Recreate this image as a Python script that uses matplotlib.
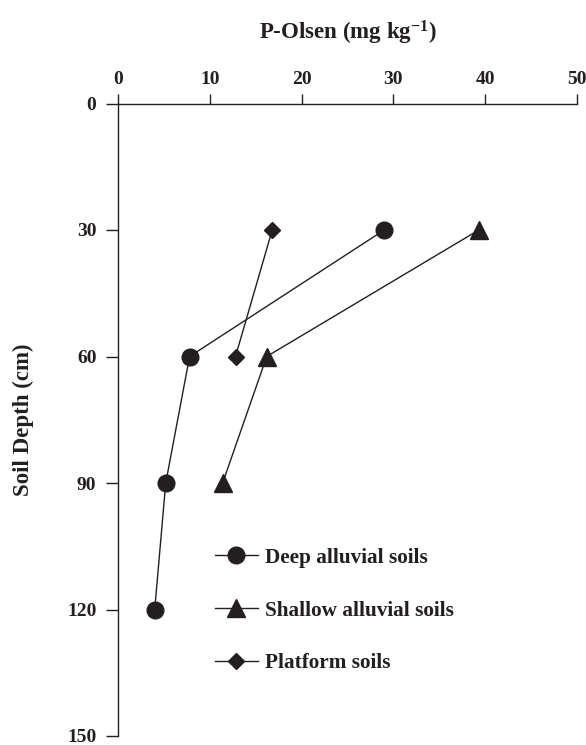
import matplotlib
matplotlib.use("Agg")
import matplotlib.pyplot as plt

# values
depth_deep = [30, 60, 90, 120]
p_deep = [29.0, 7.8, 5.2, 4.0]
depth_shallow = [30, 60, 90]
p_shallow = [39.3, 16.2, 11.4]
depth_platform = [30, 60]
p_platform = [16.8, 12.8]

x_ticks = [0, 10, 20, 30, 40, 50]
y_ticks = [0, 30, 60, 90, 120, 150]

plt.rcParams["font.family"] = "Liberation Serif"
plt.rcParams["font.weight"] = "bold"
plt.rcParams["mathtext.fontset"] = "custom"
plt.rcParams["mathtext.rm"] = "Liberation Serif:bold"
plt.rcParams["mathtext.it"] = "Liberation Serif:bold"
plt.rcParams["mathtext.bf"] = "Liberation Serif:bold"


def main():
    fig = plt.figure(figsize=(5.86, 7.45), dpi=100)
    ax = fig.add_axes([118 / 586, 1 - 736 / 745, 459 / 586, 632.5 / 745])

    kw = dict(color="#231f20", lw=1.0, clip_on=False)
    ax.plot(p_deep, depth_deep, marker="o", ms=12, label="Deep alluvial soils", **kw)
    ax.plot(p_shallow, depth_shallow, marker="^", ms=13, label="Shallow alluvial soils", **kw)
    ax.plot(p_platform, depth_platform, marker="D", ms=8.5, label="Platform soils", **kw)

    ax.set_xlim(0, 50)
    ax.set_ylim(150, 0)
    ax.set_xticks(x_ticks)
    ax.set_yticks(y_ticks)

    ax.xaxis.tick_top()
    ax.xaxis.set_label_position("top")
    for s in ["bottom", "right"]:
        ax.spines[s].set_visible(False)
    for s in ["top", "left"]:
        ax.spines[s].set_linewidth(1.0)
        ax.spines[s].set_color("#231f20")
    ax.tick_params(axis="both", direction="out", length=8, width=1.0,
                   color="#231f20", labelsize=14, labelcolor="#231f20")
    ax.tick_params(axis="x", length=7.5, pad=4)
    ax.tick_params(axis="y", length=8.5, pad=7)

    ax.set_xlabel(r"P-Olsen (mg kg$^{-1}$)", fontsize=16.5, fontweight="bold",
                  labelpad=22, color="#231f20")
    ax.set_ylabel("Soil Depth (cm)", fontsize=16.5, fontweight="bold", color="#231f20")
    ax.yaxis.set_label_coords(-0.183, 0.5)

    ax.legend(loc="center left", bbox_to_anchor=(215 / 586, 1 - 610.5 / 745),
              bbox_transform=fig.transFigure, frameon=False, fontsize=15.3,
              borderpad=0, borderaxespad=0, handlelength=2.0, handletextpad=0.35,
              labelspacing=1.55, labelcolor="#231f20")

    fig.savefig("out.png", dpi=100)
    plt.close(fig)


if __name__ == "__main__":
    main()
